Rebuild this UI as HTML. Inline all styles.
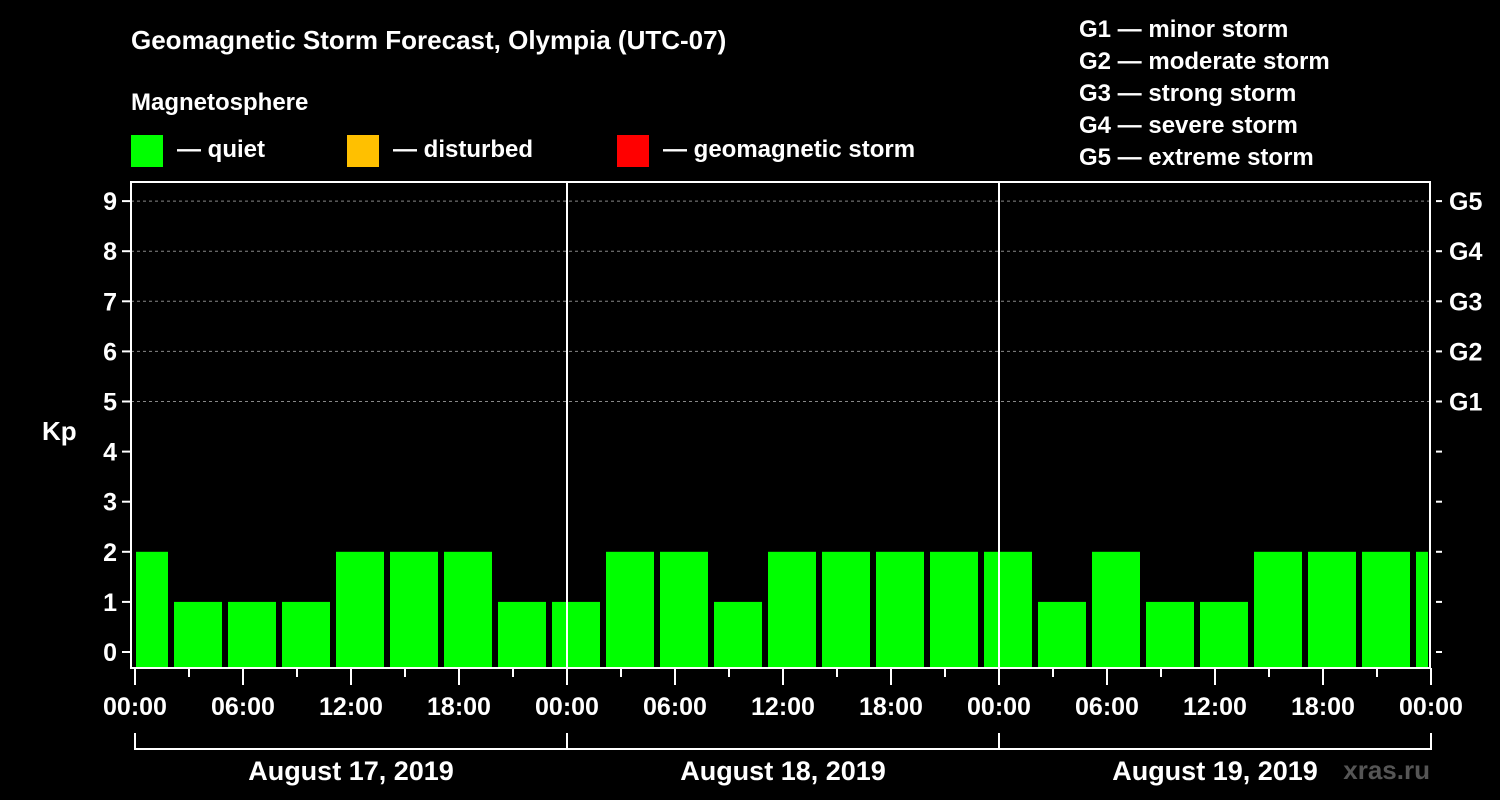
<!DOCTYPE html>
<html><head><meta charset="utf-8"><style>
body{margin:0;background:#000;}
svg{display:block;font-family:"Liberation Sans",sans-serif;font-weight:bold;}
</style></head><body>
<svg id="chart" width="1500" height="800">
<rect width="1500" height="800" fill="#000"/>
<text x="131" y="49" fill="#fff" font-size="26">Geomagnetic Storm Forecast, Olympia (UTC-07)</text>
<text x="131" y="110" fill="#fff" font-size="24">Magnetosphere</text>
<g><rect x="131" y="135" width="32" height="32" fill="#00ff00"/><text x="177" y="157" fill="#fff" font-size="24">— quiet</text></g>
<g><rect x="347" y="135" width="32" height="32" fill="#ffc000"/><text x="393" y="157" fill="#fff" font-size="24">— disturbed</text></g>
<g><rect x="617" y="135" width="32" height="32" fill="#ff0000"/><text x="663" y="157" fill="#fff" font-size="24">— geomagnetic storm</text></g>
<g fill="#fff" font-size="24">
<text x="1079" y="37">G1 — minor storm</text><text x="1079" y="69">G2 — moderate storm</text><text x="1079" y="101">G3 — strong storm</text><text x="1079" y="133">G4 — severe storm</text><text x="1079" y="165">G5 — extreme storm</text></g>
<text x="42" y="440" fill="#fff" font-size="26">Kp</text>
<text x="1430" y="779" fill="#555" font-size="26" text-anchor="end">xras.ru</text>
<g id="plot"></g>
</svg>
<script>
const values=[2,1,1,1,2,2,2,1,1,2,2,1,2,2,2,2,2,1,2,1,1,2,2,2,2];
const yTicks=[0,1,2,3,4,5,6,7,8,9];
const gLabels=["G1","G2","G3","G4","G5"];
const xLabels=["00:00","06:00","12:00","18:00","00:00","06:00","12:00","18:00","00:00","06:00","12:00","18:00","00:00"];
const dayLabels=["August 17, 2019","August 18, 2019","August 19, 2019"];
const NS="http://www.w3.org/2000/svg";
const g=document.getElementById('plot');
const L=131,R=1430,T=182,B=668,X0=135,hourPx=18;
const y=v=>652-v*50.1;
const x=h=>X0+h*hourPx;
function mk(t,a,p){const e=document.createElementNS(NS,t);for(const k in a)e.setAttribute(k,a[k]);(p||g).appendChild(e);return e;}
// grid
for(let v=5;v<=9;v++){const l=mk('line',{x1:L,x2:R,y1:y(v),y2:y(v),stroke:'#888','stroke-dasharray':'3,3'});

}
// bars
values.forEach((v,i)=>{const c=x(3*i+0.5);let x1=Math.max(c-24,L+5),x2=Math.min(c+24,R-2);
const r=mk('rect',{x:x1,y:y(v),width:x2-x1,height:B-y(v),fill:v>=5?'#ff0000':(v>=4?'#ffc000':'#00ff00')});

});
// day separators
[1,2].forEach(d=>{const l=mk('line',{x1:x(24*d),x2:x(24*d),y1:T,y2:B,stroke:'#fff','stroke-width':2});

});
// frame
const f=mk('rect',{x:L,y:T,width:R-L,height:B-T,fill:'none',stroke:'#fff','stroke-width':2});


yTicks.forEach(v=>{mk('line',{x1:L-9,x2:L,y1:y(v),y2:y(v),stroke:'#fff','stroke-width':2});mk('line',{x1:R+6,x2:R+12,y1:y(v),y2:y(v),stroke:'#fff','stroke-width':2});
const t=mk('text',{x:L-14,y:y(v)+9,fill:'#fff','font-size':25,'text-anchor':'end'});t.textContent=v;

});
gLabels.forEach((s,i)=>{const t=mk('text',{x:1449,y:y(5+i)+9,fill:'#fff','font-size':25});t.textContent=s;

});
for(let h=0;h<=72;h+=3){mk('line',{x1:x(h),x2:x(h),y1:B,y2:B+(h%6===0?17:9),stroke:'#fff','stroke-width':2});}
xLabels.forEach((s,i)=>{const t=mk('text',{x:x(6*i),y:715,fill:'#fff','font-size':25,'text-anchor':'middle'});t.textContent=s;

});
mk('polyline',{points:`${x(0)},733 ${x(0)},749 ${x(72)},749 ${x(72)},733`,fill:'none',stroke:'#fff','stroke-width':2});
[1,2].forEach(d=>mk('line',{x1:x(24*d),x2:x(24*d),y1:733,y2:749,stroke:'#fff','stroke-width':2}));
dayLabels.forEach((s,i)=>{const t=mk('text',{x:x(24*i+12),y:780,fill:'#fff','font-size':27,'text-anchor':'middle'});t.textContent=s;

});
</script>
</body></html>
